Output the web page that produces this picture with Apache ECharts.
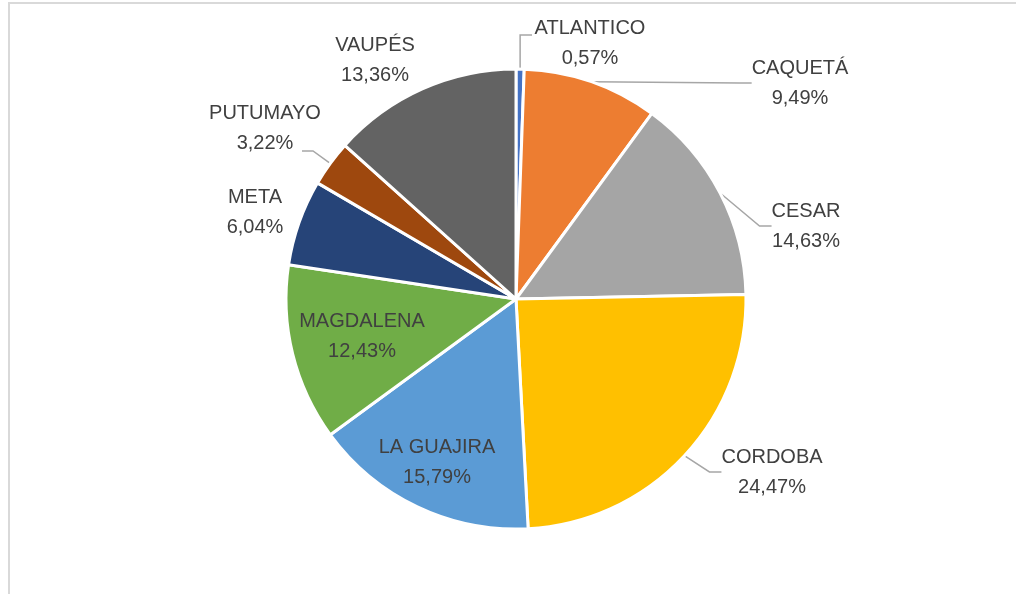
<!DOCTYPE html>
<html>
<head>
<meta charset="utf-8">
<script src="https://cdn.jsdelivr.net/npm/echarts@6/dist/echarts.min.js"></script>
<style>
    html, body { margin: 0; padding: 0; background: #fff; }
    #frame { position: absolute; left: 8px; top: 2px; width: 1020px; height: 600px;
             border-left: 2px solid #d9d9d9; border-top: 2px solid #d9d9d9; }
    #chart { position: absolute; left: 0; top: 0; width: 1016px; height: 594px; }
</style>
</head>
<body>
<div id="frame"></div>
<div id="chart"></div>
<script>
// datos del grafico
const departamentos = ['ATLANTICO', 'CAQUETÁ', 'CESAR', 'CORDOBA', 'LA GUAJIRA', 'MAGDALENA', 'META', 'PUTUMAYO', 'VAUPÉS'];
const porcentajes = [0.57, 9.49, 14.63, 24.47, 15.79, 12.43, 6.04, 3.22, 13.36];
const colores = ['#4472C4', '#ED7D31', '#A5A5A5', '#FFC000', '#5B9BD5', '#70AD47', '#264478', '#9E480E', '#636363'];

// etiquetas dentro del sector
const etiquetasDentro = ['LA GUAJIRA', 'MAGDALENA'];
// etiquetas sin linea guia
const sinLinea = ['META', 'VAUPÉS'];
// ubicacion de cada etiqueta (centro del texto)
const ubicacion = [
    [590, 43], [800, 83], [806, 226], [772, 472], [437, 462],
    [362, 336], [255, 212], [265, 128], [375, 60]
];
// quiebre de la linea guia (codo, final) para algunas etiquetas
const quiebres = {
    'ATLANTICO': [null, 35, 532, 35],
    'PUTUMAYO': [313, 151, 302, 151]
};

let myChart = echarts.init(document.getElementById('chart'));

let datos = departamentos.map(function (d, i) {
    let dentro = etiquetasDentro.indexOf(d) >= 0;
    return {
        name: d,
        value: porcentajes[i],
        itemStyle: { color: colores[i] },
        label: { position: dentro ? 'inside' : 'outside' },
        labelLine: { show: !dentro && sinLinea.indexOf(d) < 0 }
    };
});

let option = {
    animation: false,
    series: [{
        type: 'pie',
        center: [516, 299],
        radius: [0, 230],
        startAngle: 90,
        clockwise: true,
        data: datos,
        itemStyle: {
            borderColor: '#ffffff',
            borderWidth: 3
        },
        label: {
            show: true,
            formatter: function (p) {
                return p.name + '\n' + p.value.toFixed(2).replace('.', ',') + '%';
            },
            fontFamily: 'Liberation Sans',
            fontSize: 20,
            lineHeight: 30,
            color: '#404040',
            align: 'center'
        },
        labelLine: {
            show: true,
            length: 20,
            length2: 12,
            lineStyle: { color: '#a6a6a6', width: 1.5 }
        },
        labelLayout: function (params) {
            let pos = ubicacion[params.dataIndex];
            let res = {
                x: pos[0],
                y: pos[1],
                align: 'center',
                verticalAlign: 'middle'
            };
            let q = quiebres[departamentos[params.dataIndex]];
            if (q && params.labelLinePoints) {
                let p0 = params.labelLinePoints[0];
                res.labelLinePoints = [
                    [p0[0], p0[1]],
                    [q[0] === null ? p0[0] : q[0], q[1]],
                    [q[2], q[3]]
                ];
            }
            return res;
        }
    }]
};

myChart.setOption(option);
</script>
</body>
</html>
